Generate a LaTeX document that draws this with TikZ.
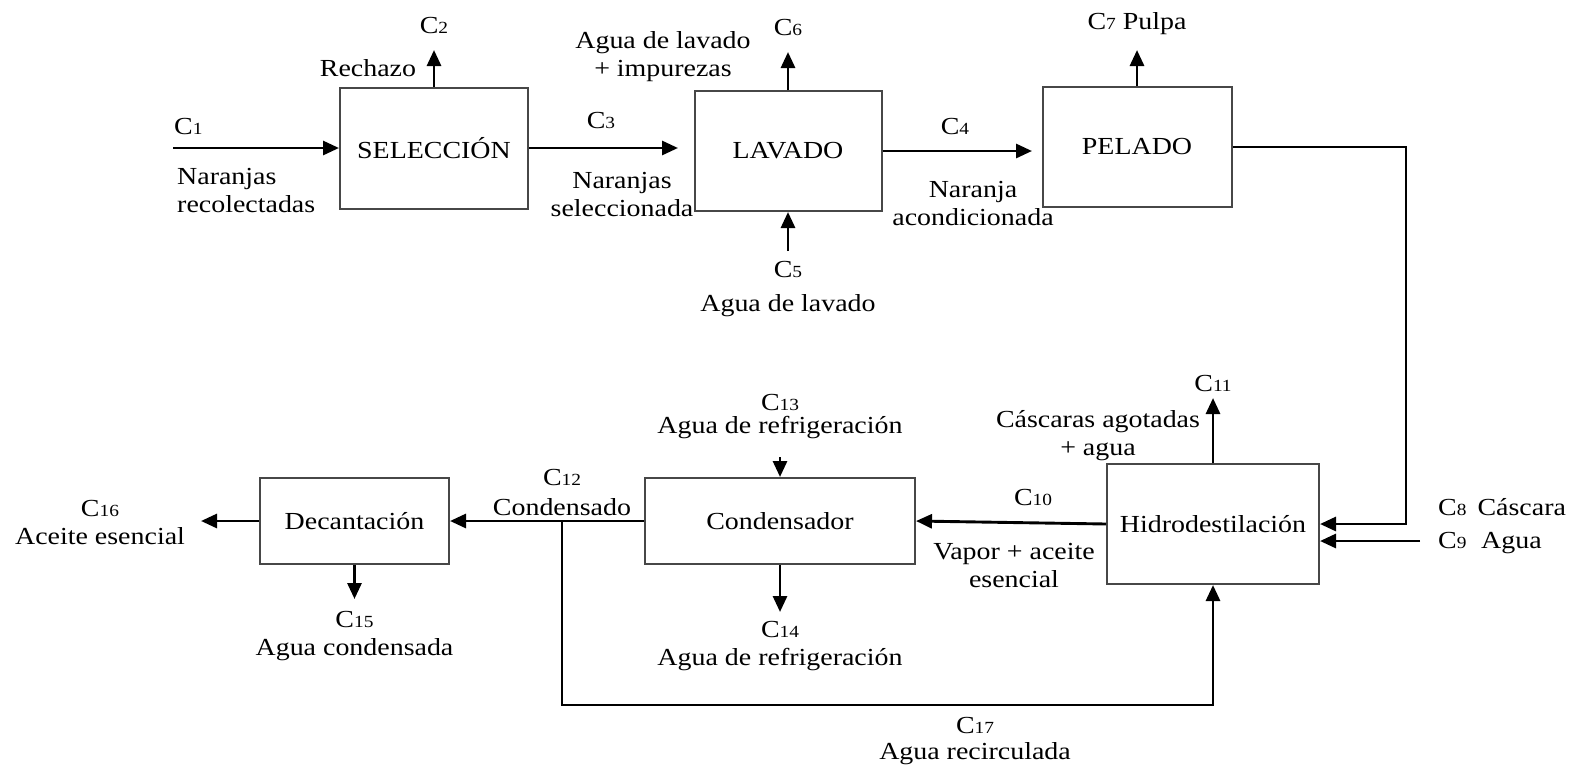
\documentclass[tikz,border=0pt]{standalone}
\usepackage{fontspec}
\setmainfont{Liberation Serif}[FakeStretch=1.14]
\usetikzlibrary{arrows.meta}
% stream label: letter C with a smaller number
\newcommand\cn[1]{C{\fontsize{17}{17}\selectfont #1}}
\begin{document}
\begin{tikzpicture}[x=1pt,y=-1pt,
  every node/.style={font=\fontsize{24.5}{28}\selectfont, inner sep=0pt},
  proc/.style={draw=black!72, line width=2pt},
  flow/.style={line width=2.9pt, -{Triangle[length=16pt,width=14pt]}}]
\fill[white] (0,0) rectangle (1576,764);
\useasboundingbox (0,0) rectangle (1576,764);

% process units
\node[proc, minimum width=188, minimum height=121] (sel) at (434,148) {SELECCIÓN};
\node[proc, minimum width=187, minimum height=120] (lav) at (788,151) {LAVADO};
\node[proc, minimum width=189, minimum height=120] (pel) at (1137,147) {PELADO};
\node[proc, minimum width=212, minimum height=120] (hid) at (1213,524) {Hidrodestilación};
\node[proc, minimum width=270, minimum height=86] (con) at (780,521) {Condensador};
\node[proc, minimum width=189, minimum height=86] (dec) at (354.5,521) {Decantación};

% free ends of the streams
\coordinate (c1in) at (173,148);
\coordinate (c2out) at (434,50);
\coordinate (c3end) at (678,148);
\coordinate (c4end) at (1032,151);
\coordinate (c5in) at (788,251);
\coordinate (c6out) at (788,52);
\coordinate (c7out) at (1137,50);
\coordinate (c8x) at (1406,0);
\coordinate (c9in) at (1420,541);
\coordinate (c11out) at (1213,398);
\coordinate (c13in) at (780,457);
\coordinate (c14out) at (780,612);
\coordinate (c15out) at (354.5,599);
\coordinate (c16out) at (201,521);
\coordinate (c12j) at (562,521);
\coordinate (c17corner) at (1213,705);

% streams
\draw[flow] (c1in) -- (sel.west);
\draw[flow] (sel.north) -- (c2out);
\draw[flow] (sel.east) -- (c3end);
\draw[flow] (lav.east) -- (c4end);
\draw[flow] (c5in) -- (lav.south);
\draw[flow] (lav.north) -- (c6out);
\draw[flow] (pel.north) -- (c7out);
\draw[flow] (pel.east) -- (pel.east -| c8x) |- (hid.east);
\draw[flow] (c9in) -- (c9in -| hid.east);
\draw[flow] (hid.north) -- (c11out);
\draw[flow] (hid.west) -- (con.east);
\draw[flow] (c13in) -- (con.north);
\draw[flow] (con.south) -- (c14out);
\draw[flow] (con.west) -- (dec.east);
\draw[flow] (dec.west) -- (c16out);
\draw[flow] (dec.south) -- (c15out);
\draw[flow] (c12j) |- (c17corner) -- (hid.south);

% stream labels
\node[anchor=west] (l1) at (174,127) {\cn{1}};
\node[anchor=west, align=left] (l1t) at (177,191) {Naranjas\\recolectadas};
\node (l2) at (434,26) {\cn{2}};
\node (l2t) at (368,68) {Rechazo};
\node (l3) at (601,121) {\cn{3}};
\node[align=center] (l3t) at (622,195) {Naranjas\\seleccionada};
\node (l4) at (955,127) {\cn{4}};
\node[align=center] (l4t) at (973,204) {Naranja\\acondicionada};
\node (l5) at (788,270) {\cn{5}};
\node (l5t) at (788,306) {Agua de lavado};
\node (l6) at (788,28) {\cn{6}};
\node[align=center] (l6t) at (663,57) {Agua de lavado\\+ impurezas};
\node (l7) at (1137,24) {\cn{7} Pulpa};
\node[anchor=west] (l8) at (1438,507) {\cn{8}\hspace{0.45em}Cáscara};
\node[anchor=west] (l9) at (1438,543) {\cn{9}\hspace{0.6em}Agua};
\node (l10) at (1033,497) {\cn{10}};
\node[align=center] (l10t) at (1014,565) {Vapor + aceite\\esencial};
\node (l11) at (1213,383) {\cn{11}};
\node[align=center] (l11t) at (1098,436) {Cáscaras agotadas\\+ agua};
\node (l12) at (562,477) {\cn{12}};
\node (l12t) at (562,507) {Condensado};
\node (l13) at (780,402) {\cn{13}};
\node (l13t) at (780,428) {Agua de refrigeración};
\node (l14) at (780,629) {\cn{14}};
\node (l14t) at (780,660) {Agua de refrigeración};
\node (l15) at (354.5,619) {\cn{15}};
\node (l15t) at (354.5,650) {Agua condensada};
\node (l16) at (100,508) {\cn{16}};
\node (l16t) at (100,536) {Aceite esencial};
\node (l17) at (975,725) {\cn{17}};
\node (l17t) at (975,754) {Agua recirculada};
\end{tikzpicture}
\end{document}
